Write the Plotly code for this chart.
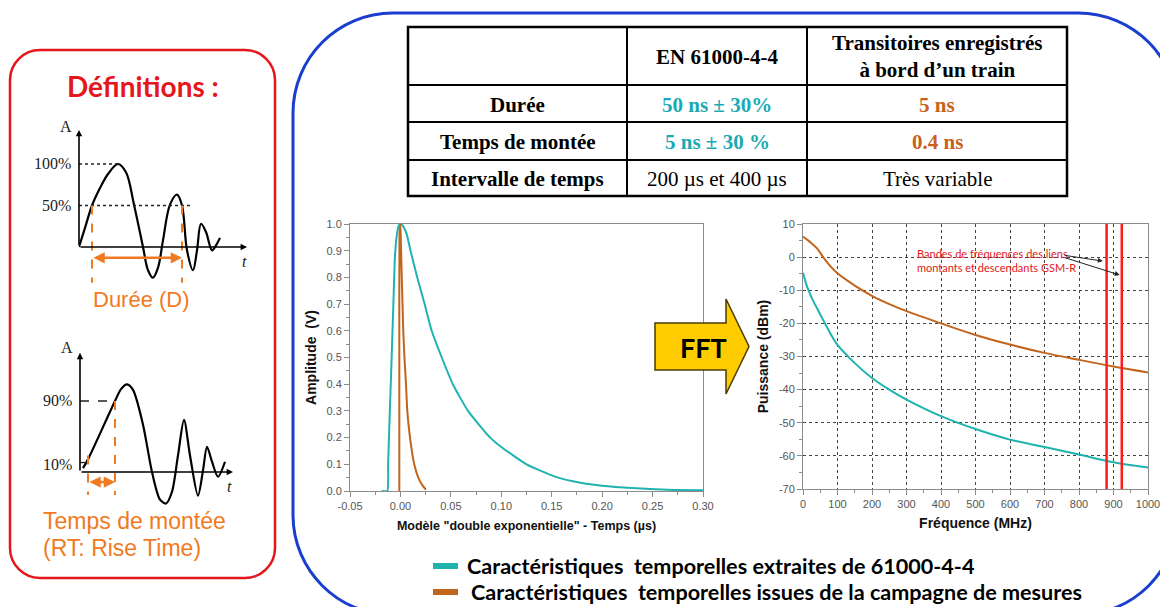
import plotly.graph_objects as go

# ---------------- data ----------------
# Time domain ("double exponentielle" model), time in µs, amplitude in V
time_us_61000 = [-0.0186, -0.013, -0.0122, -0.0105, -0.0087, -0.0070, -0.0054, -0.0035, -0.0015, 0.0,
                 0.002, 0.006, 0.010, 0.0167, 0.024, 0.031, 0.041, 0.052, 0.067, 0.089, 0.100, 0.125,
                 0.155, 0.180, 0.200, 0.230, 0.265, 0.300]
amp_61000 = [0.0, 0.0, 0.1, 0.3, 0.5, 0.7, 0.88, 0.96, 0.995, 1.0,
             0.995, 0.965, 0.9, 0.8, 0.7, 0.6, 0.5, 0.4, 0.3, 0.2, 0.165, 0.1,
             0.052, 0.03, 0.02, 0.011, 0.005, 0.003]
time_us_train = [-0.0011, -0.0011, -0.0009, 0.0, 0.0005, 0.0017, 0.0028, 0.004, 0.0055, 0.0068,
                 0.0095, 0.0137, 0.0177, 0.022, 0.0253]
amp_train = [0.0, 0.5, 0.96, 1.0, 0.92, 0.75, 0.6, 0.5, 0.4, 0.3,
             0.2, 0.1, 0.05, 0.02, 0.005]

# Spectrum (FFT), frequency in MHz, power in dBm
fft_freq_61000 = [0, 5, 10, 20, 30, 50, 75, 100, 150, 200, 250, 300, 400, 500, 600, 700, 800, 900, 1000]
fft_dbm_61000 = [-4.7, -6.6, -8.4, -11.0, -13.3, -17.3, -22.2, -26.5, -32.0, -36.5, -40.0, -43.0,
                 -48.0, -51.9, -55.1, -57.3, -59.6, -61.9, -63.5]
fft_freq_train = [0, 20, 40, 60, 80, 100, 150, 200, 250, 300, 400, 500, 600, 700, 800, 900, 1000]
fft_dbm_train = [6.2, 4.6, 2.7, -0.2, -2.8, -4.9, -8.6, -11.7, -14.2, -16.3, -20.0, -23.5, -26.4,
                 -28.9, -31.0, -33.0, -34.8]
gsm_r_bands_mhz = [880, 924]

# Tick labels
time_ticks = [-0.05, 0.0, 0.05, 0.10, 0.15, 0.20, 0.25, 0.30]
time_tick_text = ["-0.05", "0.00", "0.05", "0.10", "0.15", "0.20", "0.25", "0.30"]
amp_ticks = [0.0, 0.1, 0.2, 0.3, 0.4, 0.5, 0.6, 0.7, 0.8, 0.9, 1.0]
amp_tick_text = ["0.0", "0.1", "0.2", "0.3", "0.4", "0.5", "0.6", "0.7", "0.8", "0.9", "1.0"]
freq_ticks = [0, 100, 200, 300, 400, 500, 600, 700, 800, 900, 1000]
freq_tick_text = ["0", "100", "200", "300", "400", "500", "600", "700", "800", "900", "1000"]
dbm_ticks = [-70, -60, -50, -40, -30, -20, -10, 0, 10]
dbm_tick_text = ["-70", "-60", "-50", "-40", "-30", "-20", "-10", "0", "10"]

# Definition sketches (arbitrary time units, amplitude in %)
sketch_d_t = [0, 0.6, 1.3, 2.1, 2.9, 3.9, 4.7, 5.5, 6.4, 6.9, 7.4, 7.9, 8.4, 9.1, 9.8, 10.3,
              10.8, 11.4, 11.8, 12.2, 12.7, 13.3, 13.7, 14.1]
sketch_d_a = [0, 23, 50, 71, 88, 100, 90, 51, 0, -28, -37, -25, 8, 51, 63, 50,
              -4, -28, -4, 28, 18, -4, 2, 11]
sketch_d_levels = [100, 50]
sketch_d_marks = [1.3, 10.3]

sketch_rt_t = [0.3, 0.8, 3.5, 4.1, 4.7, 5.3, 6.3, 7.2, 8.0, 8.6, 9.2, 9.8, 10.4, 11.0, 11.8,
               12.3, 12.7, 13.2, 13.8, 14.5]
sketch_rt_a = [5, 16, 90, 105, 111, 104, 60, 0, -35, -40, -25, 21, 66, 21, -30,
               2, 32, 13, -6, 13]
sketch_rt_levels = [90, 10]
sketch_rt_marks = [0.8, 3.5]

table_header = ["", "EN 61000-4-4", "Transitoires enregistrés<br>à bord d’un train"]
table_rows = ["Durée", "Temps de montée", "Intervalle de temps"]
table_en = ["50 ns ± 30%", "5 ns ± 30 %", "200 µs et 400 µs"]
table_train = ["5 ns", "0.4 ns", "Très variable"]

name_61000 = "Caractéristiques  temporelles extraites de 61000-4-4"
name_train = "Caractéristiques  temporelles issues de la campagne de mesures"

# ---------------- styling helpers ----------------
W, H = 1168, 607
OX, OY = 8, 8  # page body margin offset
TEAL = "#1fb3b0"
BROWN = "#c2641c"
ORANGE = "#f07a22"
RED = "#e5161c"
BLUE = "#1a3fcf"
SANS = "Liberation Sans"
SERIF = "Liberation Serif"
CAL = "Lato"


def X(p):
    return (p - OX) / W


def Y(p):
    return 1 - (p - OY) / H


def rrect(x0, y0, x1, y1, r):
    k = 0.5523 * r
    f = lambda x, y: f"{X(x):.5f},{Y(y):.5f}"
    return (f"M{f(x0 + r, y0)} L{f(x1 - r, y0)} C{f(x1 - r + k, y0)} {f(x1, y0 + r - k)} {f(x1, y0 + r)} "
            f"L{f(x1, y1 - r)} C{f(x1, y1 - r + k)} {f(x1 - r + k, y1)} {f(x1 - r, y1)} "
            f"L{f(x0 + r, y1)} C{f(x0 + r - k, y1)} {f(x0, y1 - r + k)} {f(x0, y1 - r)} "
            f"L{f(x0, y0 + r)} C{f(x0, y0 + r - k)} {f(x0 + r - k, y0)} {f(x0 + r, y0)} Z")


fig = go.Figure()

# ---------------- traces ----------------
fig.add_trace(go.Scatter(x=time_us_61000, y=amp_61000, mode="lines", name=name_61000,
                         line=dict(color=TEAL, width=2, shape="spline", smoothing=0.5),
                         xaxis="x", yaxis="y", showlegend=False))
fig.add_trace(go.Scatter(x=time_us_train, y=amp_train, mode="lines", name=name_train,
                         line=dict(color=BROWN, width=2, shape="spline", smoothing=0.5),
                         xaxis="x", yaxis="y", showlegend=False))
fig.add_trace(go.Scatter(x=fft_freq_61000, y=fft_dbm_61000, mode="lines", name=name_61000,
                         line=dict(color=TEAL, width=2, shape="spline"), xaxis="x2", yaxis="y2",
                         showlegend=False))
fig.add_trace(go.Scatter(x=fft_freq_train, y=fft_dbm_train, mode="lines", name=name_train,
                         line=dict(color=BROWN, width=2, shape="spline"), xaxis="x2", yaxis="y2",
                         showlegend=False))
fig.add_trace(go.Scatter(x=sketch_d_t, y=sketch_d_a, mode="lines", line=dict(color="black", width=2.2,
                         shape="spline"), xaxis="x3", yaxis="y3", showlegend=False, hoverinfo="skip"))
fig.add_trace(go.Scatter(x=sketch_rt_t, y=sketch_rt_a, mode="lines", line=dict(color="black", width=2.2,
                         shape="spline", smoothing=0.8), xaxis="x4", yaxis="y4", showlegend=False,
                         hoverinfo="skip"))

# ---------------- axes ----------------
tickfont = dict(family=SANS, size=11, color="#555555")
frame = dict(showline=True, mirror=True, linecolor="#8c8c8c", linewidth=1, ticks="outside",
             ticklen=5, tickcolor="#8c8c8c", zeroline=False, tickfont=tickfont)

fig.update_layout(
    xaxis=dict(domain=[X(350), X(703)], range=[-0.05, 0.30], tickvals=time_ticks,
               ticktext=time_tick_text, showgrid=False, anchor="y",
               minor=dict(ticks="outside", ticklen=3, dtick=0.025, tickcolor="#8c8c8c"),
               title=dict(text="<b>Modèle \"double exponentielle\" - Temps (µs)</b>",
                          font=dict(family=SANS, size=12.5, color="#111"), standoff=10), **frame),
    yaxis=dict(domain=[Y(491), Y(224)], range=[0, 1.0], tickvals=amp_ticks, ticktext=amp_tick_text,
               showgrid=False, anchor="x",
               minor=dict(ticks="outside", ticklen=3, dtick=0.05, tickcolor="#8c8c8c"),
               title=dict(text="<b>Amplitude  (V)</b>", font=dict(family=SANS, size=14, color="#111"),
                          standoff=6), **frame),
    xaxis2=dict(domain=[X(803), X(1148)], range=[0, 1000], tickvals=freq_ticks,
                ticktext=freq_tick_text, anchor="y2", showgrid=True, gridcolor="#444444",
                griddash="dot", gridwidth=1,
                minor=dict(ticks="outside", ticklen=3, dtick=50, tickcolor="#8c8c8c"),
                title=dict(text="<b>Fréquence (MHz)</b>", font=dict(family=SANS, size=14, color="#111"),
                           standoff=8), **frame),
    yaxis2=dict(domain=[Y(489), Y(224)], range=[-70, 10], tickvals=dbm_ticks, ticktext=dbm_tick_text,
                anchor="x2", showgrid=True, gridcolor="#444444", griddash="dot", gridwidth=1,
                minor=dict(ticks="outside", ticklen=3, dtick=5, tickcolor="#8c8c8c"),
                title=dict(text="<b>Puissance (dBm)</b>", font=dict(family=SANS, size=14, color="#111"),
                           standoff=6), **frame),
    xaxis3=dict(domain=[X(79), X(260)], range=[0, 18.1], visible=False, anchor="y3"),
    yaxis3=dict(domain=[Y(300), Y(120)], range=[(247 - 300) / 0.83, (247 - 120) / 0.83],
                visible=False, anchor="x3"),
    xaxis4=dict(domain=[X(80), X(250)], range=[0, 17], visible=False, anchor="y4"),
    yaxis4=dict(domain=[Y(515), Y(335)], range=[(472 - 515) / 0.789, (472 - 335) / 0.789],
                visible=False, anchor="x4"),
)

shapes = []
ann = []


def text(x, y, s, font, xanchor="center", yanchor="middle", **kw):
    d = dict(xref="paper", yref="paper", x=X(x), y=Y(y), text=s, showarrow=False, font=font,
             xanchor=xanchor, yanchor=yanchor)
    d.update(kw)
    ann.append(d)


# Boxes
shapes.append(dict(type="path", xref="paper", yref="paper", path=rrect(10, 50, 275, 578, 30),
                   line=dict(color=RED, width=2.5), layer="below"))
shapes.append(dict(type="path", xref="paper", yref="paper", path=rrect(293, 13, 1178, 615, 100),
                   line=dict(color=BLUE, width=3), layer="below"))

# Table
tx = [408, 627, 807, 1067]
ty = [27, 85, 122, 160, 196]
shapes.append(dict(type="rect", xref="paper", yref="paper", x0=X(tx[0]), x1=X(tx[-1]), y0=Y(ty[0]),
                   y1=Y(ty[-1]), line=dict(color="black", width=2.5)))
for yy in ty[1:-1]:
    shapes.append(dict(type="line", xref="paper", yref="paper", x0=X(tx[0]), x1=X(tx[-1]), y0=Y(yy),
                       y1=Y(yy), line=dict(color="black", width=2)))
for xx in tx[1:-1]:
    shapes.append(dict(type="line", xref="paper", yref="paper", x0=X(xx), x1=X(xx), y0=Y(ty[0]),
                       y1=Y(ty[-1]), line=dict(color="black", width=2)))
cx = [(tx[i] + tx[i + 1]) / 2 for i in range(3)]
for i, h in enumerate(table_header):
    if h:
        text(cx[i], (ty[0] + ty[1]) / 2 + 1, f"<b>{h}</b>", dict(family=SERIF, size=21, color="black"))
for r in range(3):
    yc = (ty[r + 1] + ty[r + 2]) / 2 + 1
    bold = r < 2
    text(cx[0], yc, f"<b>{table_rows[r]}</b>", dict(family=SERIF, size=21, color="black"))
    text(cx[1], yc, f"<b>{table_en[r]}</b>" if bold else table_en[r],
         dict(family=SERIF, size=21, color="#1aaab2" if bold else "black"))
    text(cx[2], yc, f"<b>{table_train[r]}</b>" if bold else table_train[r],
         dict(family=SERIF, size=21, color="#c8621a" if bold else "black"))

# GSM-R band lines
for f in gsm_r_bands_mhz:
    shapes.append(dict(type="line", xref="x2", yref="y2 domain", x0=f, x1=f, y0=0, y1=1,
                       line=dict(color="#ff1a1a", width=2.5)))
ann.append(dict(xref="x2", yref="y2", x=324, y=-1.0, xanchor="left", yanchor="middle", align="left",
                text="Bandes de fréquences des liens<br>montants et descendants GSM-R", showarrow=False,
                font=dict(family=CAL, size=11, color="#e0201c")))
ann.append(dict(xref="x2", yref="y2", x=869, y=-1.2, axref="x2", ayref="y2", ax=754, ay=0.6, text="",
                showarrow=True, arrowhead=2, arrowsize=1, arrowwidth=1, arrowcolor="#222"))
ann.append(dict(xref="x2", yref="y2", x=918, y=-5.4, axref="x2", ayref="y2", ax=754, ay=0.0, text="",
                showarrow=True, arrowhead=2, arrowsize=1, arrowwidth=1, arrowcolor="#222"))

# FFT arrow
pts = [(655, 323), (726, 323), (726, 299), (749, 346.5), (726, 394), (726, 370), (655, 370)]
path = "M" + " L".join(f"{X(a):.5f},{Y(b):.5f}" for a, b in pts) + " Z"
shapes.append(dict(type="path", xref="paper", yref="paper", path=path, fillcolor="#ffcc00",
                   line=dict(color="#4a3c00", width=1.5), layer="above"))
text(703, 347, "<b>FFT</b>", dict(family=CAL, size=27, color="black"))

# Legend (manual)
for (y0, col, name, xt) in [(566, TEAL, name_61000, 465), (592, BROWN, name_train, 469)]:
    shapes.append(dict(type="rect", xref="paper", yref="paper", x0=X(433), x1=X(458), y0=Y(y0 - 3),
                       y1=Y(y0 + 3), fillcolor=col, line=dict(width=0)))
    text(xt, y0, f"<b>{name}</b>", dict(family=CAL, size=21.6, color="black"), xanchor="left")

# Definitions title
text(143, 86, "<b>Définitions :</b>", dict(family=CAL, size=28, color=RED))


def axis_arrows(xa, ya, tmax, amax):
    ann.append(dict(xref=xa, yref=ya, axref=xa, ayref=ya, x=tmax, y=0, ax=0, ay=0, text="",
                    showarrow=True, arrowhead=2, arrowsize=0.8, arrowwidth=1.6, arrowcolor="black"))
    ann.append(dict(xref=xa, yref=ya, axref=xa, ayref=ya, x=0, y=amax, ax=0, ay=0, text="",
                    showarrow=True, arrowhead=2, arrowsize=0.8, arrowwidth=1.6, arrowcolor="black"))


axis_arrows("x3", "y3", 16.8, 141)
axis_arrows("x4", "y4", 15.3, 151)
lab = dict(family=SERIF, size=16, color="#222")


def sk_text(xa, ya, x, y, s, xanchor="center", xshift=0):
    ann.append(dict(xref=xa, yref=ya, x=x, y=y, text=s, showarrow=False, font=lab,
                    xanchor=xanchor, yanchor="middle", xshift=xshift))


sk_text("x3", "y3", 0, 145, "A", xshift=-13)
sk_text("x3", "y3", 16.5, -18, "<i>t</i>")
sk_text("x4", "y4", 0, 158, "A", xshift=-13)
sk_text("x4", "y4", 14.9, -19, "<i>t</i>")

# Sketch 1 : Durée
for lv, tend in zip(sketch_d_levels, [3.9, 11.3]):
    shapes.append(dict(type="line", xref="x3", yref="y3", x0=0, x1=tend, y0=lv, y1=lv,
                       line=dict(color="#222", width=1.3, dash="dot")))
    sk_text("x3", "y3", 0, lv, f"{lv}%", xanchor="right", xshift=-6)
for m in sketch_d_marks:
    shapes.append(dict(type="line", xref="x3", yref="y3", x0=m, x1=m, y0=50, y1=-43,
                       line=dict(color=ORANGE, width=2, dash="dash")))
ann.append(dict(xref="x3", yref="y3", axref="x3", ayref="y3", x=sketch_d_marks[1], y=-13,
                ax=sketch_d_marks[0], ay=-13, text="", showarrow=True, arrowhead=2, arrowside="end+start",
                arrowsize=0.9, arrowwidth=2.5, arrowcolor=ORANGE))
text(141, 299, "Durée (D)", dict(family=SANS, size=22, color=ORANGE))

# Sketch 2 : Temps de montée
shapes.append(dict(type="line", xref="x4", yref="y4", x0=0, x1=sketch_rt_marks[1], y0=90, y1=90,
                   line=dict(color="#222", width=1.5, dash="dash")))
shapes.append(dict(type="line", xref="x4", yref="y4", x0=0, x1=sketch_rt_marks[0], y0=12, y1=12,
                   line=dict(color="#222", width=1.3)))
for lv in sketch_rt_levels:
    sk_text("x4", "y4", 0, lv, f"{lv}%", xanchor="right", xshift=-6)
for m, top in zip(sketch_rt_marks, [21, 90]):
    shapes.append(dict(type="line", xref="x4", yref="y4", x0=m, x1=m, y0=top, y1=-29,
                       line=dict(color=ORANGE, width=2, dash="dash")))
ann.append(dict(xref="x4", yref="y4", axref="x4", ayref="y4", x=sketch_rt_marks[1], y=-12.7,
                ax=sketch_rt_marks[0], ay=-12.7, text="", showarrow=True, arrowhead=2,
                arrowside="end+start", arrowsize=0.9, arrowwidth=2.5, arrowcolor=ORANGE))
text(41, 521, "Temps de montée", dict(family=SANS, size=23, color=ORANGE), xanchor="left")
text(41, 548, "(RT: Rise Time)", dict(family=SANS, size=23, color=ORANGE), xanchor="left")

fig.update_layout(width=W, height=H, autosize=False,
                  margin=dict(l=0, r=0, t=0, b=0, pad=0, autoexpand=False),
                  paper_bgcolor="white", plot_bgcolor="white", shapes=shapes, annotations=ann,
                  showlegend=False, font=dict(family=SANS))

fig.write_html("out.html")
